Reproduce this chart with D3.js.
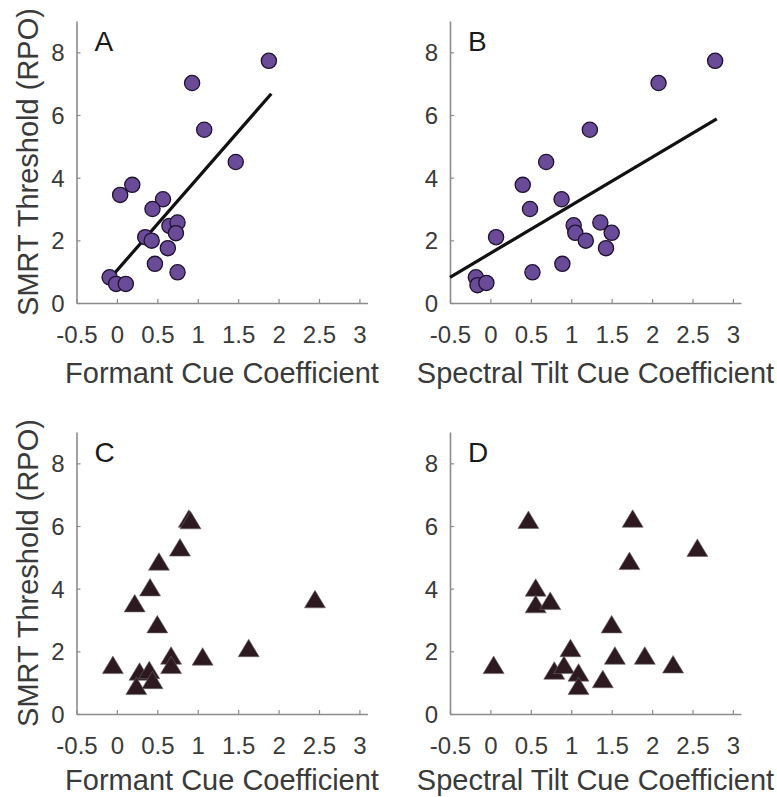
<!DOCTYPE html>
<html>
<head>
<meta charset="utf-8">
<script src="https://cdn.jsdelivr.net/npm/d3@7/dist/d3.min.js"></script>
<style>
  html, body { margin: 0; padding: 0; background: #fff; }
  svg { display: block; font-family: "Liberation Sans", Arial, sans-serif; }
</style>
</head>
<body>
<svg id="chart" width="777" height="797"></svg>
<script>
// Axis ticks shared by all four panels
const xTicks = [-0.5, 0, 0.5, 1, 1.5, 2, 2.5, 3];
const xTickLabels = ["-0.5", "0", "0.5", "1", "1.5", "2", "2.5", "3"];
const yTicks = [0, 2, 4, 6, 8];
const yTickLabels = ["0", "2", "4", "6", "8"];

const yTitle = "SMRT Threshold (RPO)";
const formantTitle = "Formant Cue Coefficient";
const tiltTitle = "Spectral Tilt Cue Coefficient";

// Panel A: formant cue coefficient vs SMRT threshold
const formantA = [1.88, 0.93, 1.08, 1.47, 0.19, 0.04, 0.57, 0.44, 0.65, 0.75, 0.73, 0.35, 0.43, 0.63, 0.47, 0.75, -0.09, -0.01, 0.11];
const smrtA    = [7.73, 7.02, 5.53, 4.50, 3.77, 3.45, 3.31, 3.00, 2.46, 2.57, 2.23, 2.10, 1.99, 1.75, 1.25, 0.98, 0.82, 0.61, 0.61];
const fitAx = [-0.05, 1.91];
const fitAy = [0.89, 6.68];

// Panel B: spectral tilt cue coefficient vs SMRT threshold
const tiltB = [-0.18, -0.16, -0.05, 0.07, 0.40, 0.49, 0.52, 0.69, 0.88, 0.89, 1.03, 1.05, 1.18, 1.23, 1.36, 1.43, 1.50, 2.08, 2.78];
const smrtB = [0.82, 0.57, 0.64, 2.10, 3.77, 3.00, 0.98, 4.50, 3.31, 1.25, 2.48, 2.24, 1.99, 5.53, 2.57, 1.75, 2.24, 7.02, 7.73];
const fitBx = [-0.5, 2.80];
const fitBy = [0.82, 5.88];

// Panel C: formant cue coefficient vs SMRT threshold (second group)
const formantC = [0.89, 0.91, 0.78, 0.52, 0.41, 0.22, 0.50, 0.67, 0.67, 1.06, 1.63, -0.05, 0.28, 0.40, 0.44, 0.24, 2.45];
const smrtC    = [6.23, 6.18, 5.31, 4.86, 4.04, 3.53, 2.86, 1.86, 1.56, 1.83, 2.10, 1.56, 1.35, 1.40, 1.08, 0.89, 3.66];

// Panel D: spectral tilt cue coefficient vs SMRT threshold (second group)
const tiltD = [0.47, 0.56, 0.56, 0.74, 0.04, 0.79, 0.91, 0.99, 1.09, 1.09, 1.39, 1.50, 1.54, 1.76, 1.72, 2.56, 1.91, 2.26];
const smrtD = [6.19, 4.03, 3.50, 3.61, 1.56, 1.38, 1.56, 2.10, 1.32, 0.89, 1.11, 2.86, 1.86, 6.23, 4.88, 5.30, 1.86, 1.58];

const xDomain = [-0.5, 3.1];
const yDomain = [0, 9];

const panels = [
  { letter: "A", left: 76.5, top: 21, bottom: 303, xs: formantA, ys: smrtA, marker: "circle", fit: [fitAx, fitAy], title: formantTitle, yAxisTitle: true, titleDy: 80 },
  { letter: "B", left: 450,  top: 21, bottom: 303, xs: tiltB,    ys: smrtB, marker: "circle", fit: [fitBx, fitBy], title: tiltTitle, yAxisTitle: false, titleDy: 80 },
  { letter: "C", left: 76.5, top: 432, bottom: 714, xs: formantC, ys: smrtC, marker: "triangle", fit: null, title: formantTitle, yAxisTitle: true, titleDy: 76 },
  { letter: "D", left: 450,  top: 432, bottom: 714, xs: tiltD,    ys: smrtD, marker: "triangle", fit: null, title: tiltTitle, yAxisTitle: false, titleDy: 76 }
];
const plotWidth = 291;

const svg = d3.select("#chart");
const textColor = "#3a3a3a";
const axisColor = "#8c8c8c";

panels.forEach(p => {
  const x = d3.scaleLinear().domain(xDomain).range([p.left, p.left + plotWidth]);
  const y = d3.scaleLinear().domain(yDomain).range([p.bottom, p.top]);
  const g = svg.append("g");

  // x axis (ticks point inward)
  const xAxis = g.append("g")
    .attr("transform", `translate(0,${p.bottom})`)
    .call(d3.axisBottom(x).tickValues(xTicks).tickSize(-4).tickSizeOuter(0)
      .tickFormat((d, i) => xTickLabels[i]));
  xAxis.select(".domain").attr("stroke", axisColor).attr("stroke-width", 1.6);
  xAxis.selectAll(".tick line").attr("stroke", axisColor).attr("stroke-width", 1.2);
  xAxis.selectAll(".tick text")
    .attr("fill", textColor).attr("font-size", 24)
    .attr("y", 40).attr("dy", 0);

  // y axis (ticks point inward)
  const yAxis = g.append("g")
    .attr("transform", `translate(${p.left},0)`)
    .call(d3.axisLeft(y).tickValues(yTicks).tickSize(-4).tickSizeOuter(0)
      .tickFormat((d, i) => yTickLabels[i]));
  yAxis.select(".domain").attr("stroke", axisColor).attr("stroke-width", 1.6);
  yAxis.selectAll(".tick line").attr("stroke", axisColor).attr("stroke-width", 1.2);
  yAxis.selectAll(".tick text")
    .attr("fill", textColor).attr("font-size", 24)
    .attr("x", -12).attr("dy", "0.36em");

  // regression line
  if (p.fit) {
    g.append("line")
      .attr("x1", x(p.fit[0][0])).attr("y1", y(p.fit[1][0]))
      .attr("x2", x(p.fit[0][1])).attr("y2", y(p.fit[1][1]))
      .attr("stroke", "#111").attr("stroke-width", 3.2);
  }

  const pts = p.xs.map((v, i) => ({ x: v, y: p.ys[i] }));
  if (p.marker === "circle") {
    g.selectAll("circle.pt").data(pts).join("circle")
      .attr("class", "pt")
      .attr("cx", d => x(d.x)).attr("cy", d => y(d.y))
      .attr("r", 7.6)
      .attr("fill", "#6a4b98")
      .attr("stroke", "#1f1230").attr("stroke-width", 1.3);
  } else {
    const tri = "M0,-9L10.5,8.5L-10.5,8.5Z";
    g.selectAll("path.pt").data(pts).join("path")
      .attr("class", "pt")
      .attr("d", tri)
      .attr("transform", d => `translate(${x(d.x)},${y(d.y)})`)
      .attr("fill", "#2c1a20")
      .attr("stroke", "#6d6466").attr("stroke-width", 0.6);
  }

  // panel letter
  g.append("text")
    .attr("x", p.left + 18).attr("y", p.top + 30)
    .attr("font-size", 28).attr("fill", "#1a1a1a")
    .text(p.letter);

  // x axis title
  g.append("text")
    .attr("x", p.left + plotWidth / 2).attr("y", p.bottom + p.titleDy)
    .attr("text-anchor", "middle")
    .attr("font-size", 29).attr("fill", textColor)
    .text(p.title);

  // y axis title
  if (p.yAxisTitle) {
    g.append("text")
      .attr("transform", `translate(38,${(p.top + p.bottom) / 2}) rotate(-90)`)
      .attr("text-anchor", "middle")
      .attr("font-size", 29).attr("fill", textColor)
      .text(yTitle);
  }
});
</script>
</body>
</html>
